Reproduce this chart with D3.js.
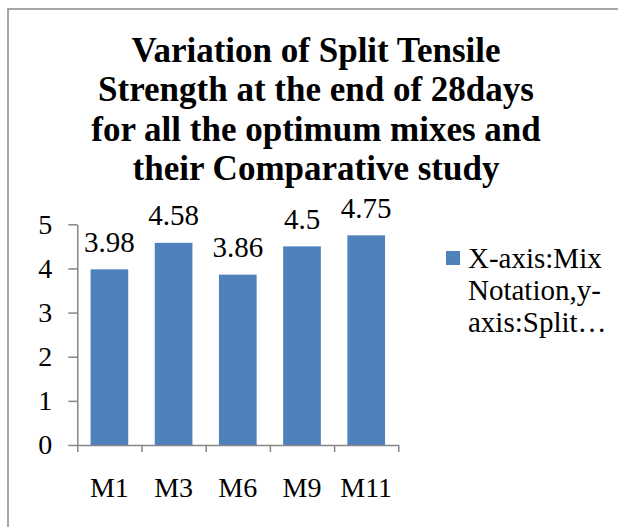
<!DOCTYPE html>
<html>
<head>
<meta charset="utf-8">
<script src="https://cdn.jsdelivr.net/npm/d3@7"></script>
<style>
  body { margin: 0; background: #fff; }
  text { font-family: "Liberation Serif", "Times New Roman", serif; fill: #000; }
</style>
</head>
<body>
<svg width="618" height="527"></svg>
<script>
var mixes = ["M1", "M3", "M6", "M9", "M11"];
var strength = [3.98, 4.58, 3.86, 4.5, 4.75];
var yTicks = [0, 1, 2, 3, 4, 5];
var titleLines = ["Variation of Split Tensile", "Strength at the end of 28days", "for all the optimum mixes and", "their Comparative study"];
var legendLines = ["X-axis:Mix", "Notation,y-", "axis:Split\u2026"];

var svg = d3.select("svg"),
    plot = { left: 77.3, right: 398.3, top: 224.3, bottom: 445 },
    axisColor = "#868686",
    barColor = "#4f81bd";

// outer frame, runs off the right and bottom edges
svg.append("rect")
    .attr("x", 8).attr("y", 9)
    .attr("width", 700).attr("height", 600)
    .attr("fill", "none")
    .attr("stroke", "#8a8a8a")
    .attr("stroke-width", 1.5);

var x = d3.scaleBand()
    .domain(mixes)
    .range([plot.left, plot.right])
    .paddingInner(0.413)
    .paddingOuter(0.2065);

var y = d3.scaleLinear()
    .domain([0, 5])
    .range([plot.bottom, plot.top]);

// category boundaries for the tick marks
var xb = d3.scaleLinear().domain([0, mixes.length]).range([plot.left, plot.right]);

// title, centred on the chart frame
svg.append("g").selectAll("text")
    .data(titleLines)
  .enter().append("text")
    .attr("x", 316)
    .attr("y", function(d, i) { return 61.5 + i * 39.6; })
    .attr("text-anchor", "middle")
    .style("font-size", "35px")
    .style("font-weight", "bold")
    .text(function(d) { return d; });

// bars
svg.append("g").selectAll("rect")
    .data(strength)
  .enter().append("rect")
    .attr("x", function(d, i) { return x(mixes[i]); })
    .attr("y", function(d) { return y(d); })
    .attr("width", x.bandwidth())
    .attr("height", function(d) { return y(0) - y(d); })
    .attr("fill", barColor);

// value labels
svg.append("g").selectAll("text")
    .data(strength)
  .enter().append("text")
    .attr("x", function(d, i) { return x(mixes[i]) + x.bandwidth() / 2; })
    .attr("y", function(d) { return y(d) - 17.5; })
    .attr("text-anchor", "middle")
    .style("font-size", "29px")
    .text(function(d) { return d; });

// y axis
var yAxis = svg.append("g")
    .attr("transform", "translate(" + plot.left + ",0)")
    .call(d3.axisLeft(y).tickValues(yTicks).tickSize(9).tickSizeOuter(0).tickPadding(16).tickFormat(d3.format("d")));

// x axis: boundary ticks
var xAxis = svg.append("g")
    .attr("transform", "translate(0," + plot.bottom + ")")
    .call(d3.axisBottom(xb).ticks(mixes.length).tickSize(7).tickSizeOuter(0).tickFormat(""));

svg.selectAll(".domain, .tick line")
    .attr("stroke", axisColor)
    .attr("stroke-width", 1.5);
yAxis.selectAll(".tick text")
    .style("font-size", "28px")
    .style("font-family", "Liberation Serif")
    .attr("fill", "#000");

// category labels
svg.append("g").selectAll("text")
    .data(mixes)
  .enter().append("text")
    .attr("x", function(d) { return x(d) + x.bandwidth() / 2; })
    .attr("y", 496.5)
    .attr("text-anchor", "middle")
    .style("font-size", "28px")
    .text(function(d) { return d; });

// legend
var legend = svg.append("g");
legend.append("rect")
    .attr("x", 446).attr("y", 251)
    .attr("width", 14).attr("height", 14)
    .attr("fill", barColor);
legend.selectAll("text")
    .data(legendLines)
  .enter().append("text")
    .attr("x", 468)
    .attr("y", function(d, i) { return 268 + i * 32; })
    .style("font-size", "29px")
    .text(function(d) { return d; });
</script>
</body>
</html>
